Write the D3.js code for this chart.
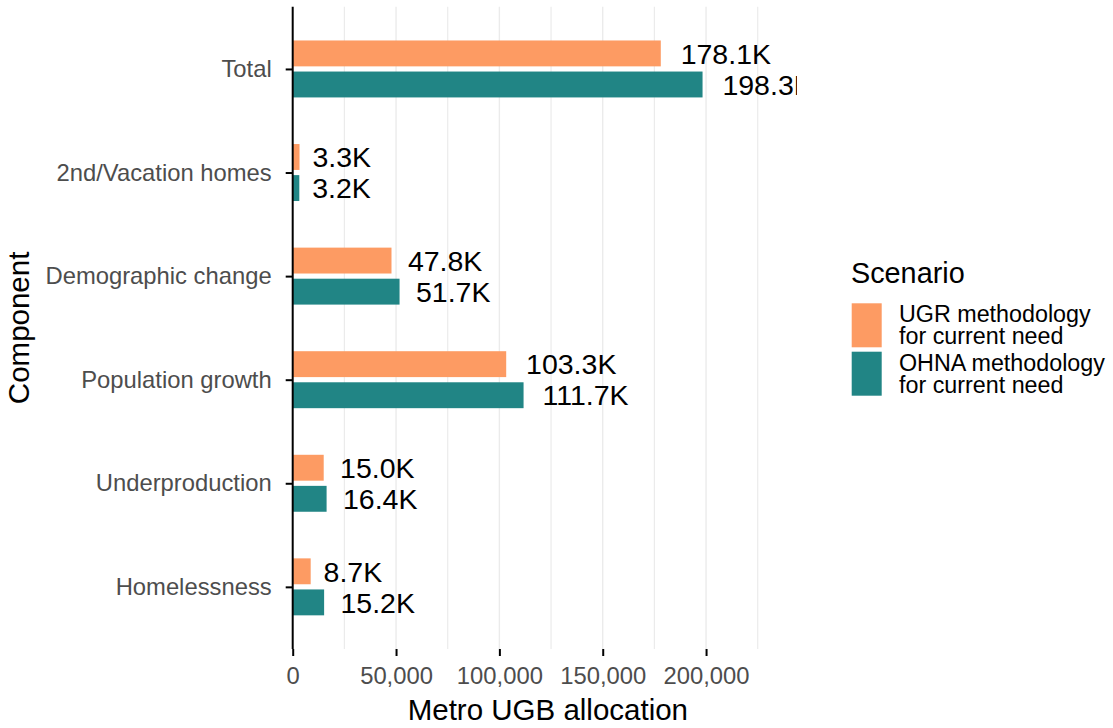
<!DOCTYPE html>
<html>
<head>
<meta charset="utf-8">
<script src="https://cdn.jsdelivr.net/npm/d3@7"></script>
<style>
  html, body { margin: 0; padding: 0; background: #ffffff; }
  svg { display: block; font-family: "Liberation Sans", Arial, Helvetica, sans-serif; }
</style>
</head>
<body>
<svg id="chart" width="1113" height="728"></svg>
<script>
// Components of the Metro UGB allocation, top to bottom
const components = ["Total", "2nd/Vacation homes", "Demographic change",
                    "Population growth", "Underproduction", "Homelessness"];

// Scenarios and their colours
const scenarios = ["UGR", "OHNA"];
const scenarioLabels = [["UGR methodology", "for current need"],
                        ["OHNA methodology", "for current need"]];
const scenarioColors = ["#FD9B63", "#218585"];

// Allocation (housing units) per component, one array per scenario
const ugrValues  = [178100, 3300, 47800, 103300, 15000, 8700];
const ohnaValues = [198300, 3200, 51700, 111700, 16400, 15200];

// Axis ticks
const majorTicks = [0, 50000, 100000, 150000, 200000];
const minorTicks = [25000, 75000, 125000, 175000, 225000];

const data = [];
components.forEach((c, i) => {
  data.push({ component: c, scenario: "UGR",  value: ugrValues[i] });
  data.push({ component: c, scenario: "OHNA", value: ohnaValues[i] });
});

const svg = d3.select("#chart");
const panel = { left: 292.7, right: 797, top: 6.8, bottom: 649 };

const x = d3.scaleLinear().domain([0, 244000]).range([panel.left, panel.right]);
const y = d3.scalePoint().domain(components).range([panel.top, panel.bottom]).padding(0.6);
const step = y.step();
const inner = d3.scaleBand().domain(scenarios)
  .range([-0.275 * step, 0.275 * step]).paddingInner(1 / 6).paddingOuter(0);
const color = d3.scaleOrdinal().domain(scenarios).range(scenarioColors);

// clip for the panel so labels running past the edge are cut
svg.append("defs").append("clipPath").attr("id", "panel-clip")
  .append("rect")
  .attr("x", panel.left).attr("y", panel.top)
  .attr("width", panel.right - panel.left).attr("height", panel.bottom - panel.top);

// vertical gridlines
const grid = svg.append("g");
grid.selectAll("line.minor").data(minorTicks).join("line")
  .attr("class", "minor")
  .attr("x1", d => x(d)).attr("x2", d => x(d))
  .attr("y1", panel.top).attr("y2", panel.bottom)
  .attr("stroke", "#ebebeb").attr("stroke-width", 1.2);
grid.selectAll("line.major").data(majorTicks.filter(d => d > 0)).join("line")
  .attr("class", "major")
  .attr("x1", d => x(d)).attr("x2", d => x(d))
  .attr("y1", panel.top).attr("y2", panel.bottom)
  .attr("stroke", "#ebebeb").attr("stroke-width", 1.4);

// bars
const plot = svg.append("g").attr("clip-path", "url(#panel-clip)");
plot.selectAll("rect.bar").data(data).join("rect")
  .attr("class", "bar")
  .attr("x", x(0))
  .attr("y", d => y(d.component) + inner(d.scenario))
  .attr("width", d => x(d.value) - x(0))
  .attr("height", inner.bandwidth())
  .attr("fill", d => color(d.scenario));

// value labels, nudged right of each bar by a fraction of their width
const fmt = v => d3.format(".1f")(v / 1000) + "K";
plot.selectAll("text.val").data(data).join("text")
  .attr("class", "val")
  .attr("x", d => x(d.value))
  .attr("y", d => y(d.component) + inner(d.scenario) + inner.bandwidth() / 2)
  .attr("dy", "0.36em")
  .attr("font-size", 28.5)
  .attr("fill", "#000")
  .text(d => fmt(d.value))
  .each(function () {
    const w = this.getComputedTextLength();
    d3.select(this).attr("dx", 0.22 * w);
  });

// y axis
const yAxis = svg.append("g").attr("transform", `translate(${panel.left},0)`)
  .call(d3.axisLeft(y).tickSize(7).tickPadding(14));
yAxis.select(".domain").remove();
yAxis.selectAll(".tick line").attr("stroke", "#000").attr("stroke-width", 2);
yAxis.selectAll(".tick text").attr("font-size", 23.8).attr("fill", "#4d4d4d")
  .attr("font-family", null);
svg.append("line")
  .attr("x1", panel.left).attr("x2", panel.left)
  .attr("y1", panel.top).attr("y2", panel.bottom)
  .attr("stroke", "#000").attr("stroke-width", 2);

// x axis (ticks only, no line)
const xAxis = svg.append("g").attr("transform", `translate(0,${panel.bottom})`)
  .call(d3.axisBottom(x).tickValues(majorTicks).tickSize(7).tickPadding(11)
    .tickFormat(d3.format(",")));
xAxis.select(".domain").remove();
xAxis.selectAll(".tick line").attr("stroke", "#000").attr("stroke-width", 2);
xAxis.selectAll(".tick text").attr("font-size", 23.8).attr("fill", "#4d4d4d")
  .attr("font-family", null);

// axis titles
svg.append("text")
  .attr("x", (panel.left + panel.right) / 2 + 3).attr("y", 719.5)
  .attr("text-anchor", "middle").attr("font-size", 29.5).attr("fill", "#000")
  .text("Metro UGB allocation");
svg.append("text")
  .attr("transform", `translate(29,${(panel.top + panel.bottom) / 2}) rotate(-90)`)
  .attr("text-anchor", "middle").attr("font-size", 29.5).attr("fill", "#000")
  .text("Component");

// legend
const legend = svg.append("g");
legend.append("text").attr("x", 851).attr("y", 283)
  .attr("font-size", 28.8).attr("fill", "#000").text("Scenario");
const keyTop = [303.3, 351.7];
const labelBase = [322, 371.4];
const keys = legend.selectAll("g.key").data(scenarios).join("g")
  .attr("class", "key");
keys.append("rect")
  .attr("x", 851.7).attr("y", (d, i) => keyTop[i])
  .attr("width", 30).attr("height", 44)
  .attr("fill", d => color(d));
keys.append("text")
  .attr("x", 899).attr("y", (d, i) => labelBase[i])
  .attr("font-size", 23.3).attr("fill", "#000")
  .selectAll("tspan").data((d, i) => scenarioLabels[i]).join("tspan")
  .attr("x", 899).attr("dy", (d, j) => j === 0 ? 0 : 21.5)
  .text(d => d);
</script>
</body>
</html>
